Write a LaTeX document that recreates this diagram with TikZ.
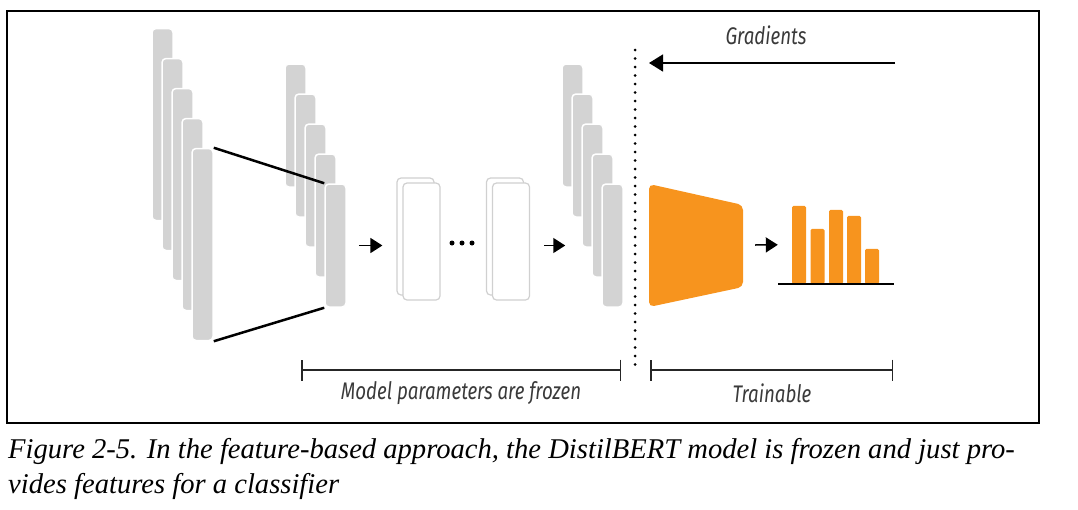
\documentclass[tikz,border=0pt]{standalone}
\usepackage{fontspec}
\usetikzlibrary{arrows.meta}
\newfontfamily\labelfont[FakeStretch=0.78]{Fira Sans}
\newfontfamily\captionfont{Liberation Serif}
\definecolor{bargrey}{HTML}{D3D3D3}
\definecolor{boxgrey}{HTML}{D0D0D0}
\definecolor{headorange}{HTML}{F7941E}
\definecolor{labelgrey}{HTML}{3A3A3A}
\tikzset{
	greybar/.style={fill=bargrey, draw=white, line width=1.5pt, rounded corners=4pt, minimum width=21pt, inner sep=0pt},
	tallbar/.style={greybar, minimum height=192pt},
	shortbar/.style={greybar, minimum height=123pt},
	boxface/.style={fill=white, draw=boxgrey, line width=1.2pt, rounded corners=4pt, minimum width=37pt, minimum height=117pt, inner sep=0pt},
	scorebar/.style={fill=headorange, rounded corners=1.5pt, minimum width=14pt, anchor=south, inner sep=0pt},
	flowarrow/.style={-{Triangle[length=12pt,width=15pt]}, line width=1.5pt},
	spanline/.style={{Bar[width=21pt]}-{Bar[width=21pt]}, line width=1.5pt, draw=black!85},
	tagtext/.style={font=\labelfont\itshape\fontsize{24pt}{24pt}\selectfont, text=labelgrey, inner sep=0pt},
	captiontext/.style={font=\captionfont\itshape\fontsize{28.6pt}{28.6pt}\selectfont, anchor=base west, inner sep=0pt}
}
\begin{document}
\begin{tikzpicture}[x=1pt, y=-1pt]
	\useasboundingbox (0,0) rectangle (1078,509);
	\draw[line width=1.5pt] (7,11) rectangle (1039,423);
	% input embeddings
	\node[tallbar] (in1) at (162.5,124.5) {};
	\node[tallbar] (in2) at (172.5,154.5) {};
	\node[tallbar] (in3) at (182.5,184.5) {};
	\node[tallbar] (in4) at (192.5,214.5) {};
	\node[tallbar] (in5) at (202.5,244.5) {};
	% first encoder layer
	\node[shortbar] (e1) at (295.5,125.5) {};
	\node[shortbar] (e2) at (305.5,155.5) {};
	\node[shortbar] (e3) at (315.5,185.5) {};
	\node[shortbar] (e4) at (325.5,215.5) {};
	\node[shortbar] (e5) at (335.5,245.5) {};
	\draw[line width=2.5pt] (in5.north east) -- (e5.north west);
	\draw[line width=2.5pt] (in5.south east) -- (e5.south west);
	% hidden layers
	\node[boxface] (b1back) at (415.5,236.5) {};
	\node[boxface] (b1) at (421.5,241.5) {};
	\node[boxface] (b2back) at (505,236.5) {};
	\node[boxface] (b2) at (511,241.5) {};
	\node[circle, fill=black, minimum size=5pt, inner sep=0pt] (d1) at (452,243) {};
	\node[circle, fill=black, minimum size=5pt, inner sep=0pt] (d2) at (462,243) {};
	\node[circle, fill=black, minimum size=5pt, inner sep=0pt] (d3) at (472,243) {};
	% last hidden states
	\node[shortbar] (r1) at (572.5,125.5) {};
	\node[shortbar] (r2) at (582.5,155.5) {};
	\node[shortbar] (r3) at (592.5,185.5) {};
	\node[shortbar] (r4) at (602.5,215.5) {};
	\node[shortbar] (r5) at (612.5,245.5) {};
	\draw[flowarrow] ([xshift=12pt]e5.east) -- ([xshift=-14pt]b1back.west |- e5.east);
	\draw[flowarrow] ([xshift=14pt]b2.east |- r5.west) -- ([xshift=-16pt]r3.west |- r5.west);
	% frozen / trainable cut
	\coordinate (cuttop) at (635,50);
	\coordinate (cutbottom) at (635,372);
	\draw[line width=3pt, line cap=round, dash pattern=on 0pt off 8.5pt] (cuttop) -- (cutbottom);
	\coordinate (gradfrom) at (895,63);
	\coordinate (gradto) at (649,63);
	\draw[line width=1.5pt, -{Triangle[length=14pt,width=17pt]}] (gradfrom) -- (gradto);
	\node[tagtext] (gradlabel) at (766,35) {Gradients};
	% classifier head
	\fill[headorange, rounded corners=5pt] (649,184) -- (743,205) -- (743,287) -- (649,307) -- cycle;
	\coordinate (head) at (743,245);
	\node[scorebar, minimum height=78pt] (p1) at (799,284) {};
	\node[scorebar, minimum height=55pt] (p2) at (817.5,284) {};
	\node[scorebar, minimum height=74pt] (p3) at (836,284) {};
	\node[scorebar, minimum height=68pt] (p4) at (854,284) {};
	\node[scorebar, minimum height=35pt] (p5) at (872,284) {};
	\coordinate (axisleft) at (778,284);
	\coordinate (axisright) at (894,284);
	\draw[line width=1.5pt] (axisleft) -- (axisright);
	\draw[flowarrow] ([xshift=12pt]head) -- ([xshift=-14pt]p1.west);
	% spans
	\coordinate (frozenL) at (301,370);
	\coordinate (frozenR) at (621,370);
	\coordinate (trainL) at (650,370);
	\coordinate (trainR) at (893,370);
	\draw[spanline] (frozenL) -- (frozenR);
	\draw[spanline] (trainL) -- (trainR);
	\node[tagtext] (frozenlabel) at (461,393) {Model parameters are frozen};
	\node[tagtext] (trainlabel) at (772,393) {Trainable};
	% caption
	\node[captiontext] (cap1) at (8,458) {Figure 2-5. In the feature-based approach, the DistilBERT model is frozen and just pro-};
	\node[captiontext] (cap2) at (8,493) {vides features for a classifier};
\end{tikzpicture}
\end{document}
